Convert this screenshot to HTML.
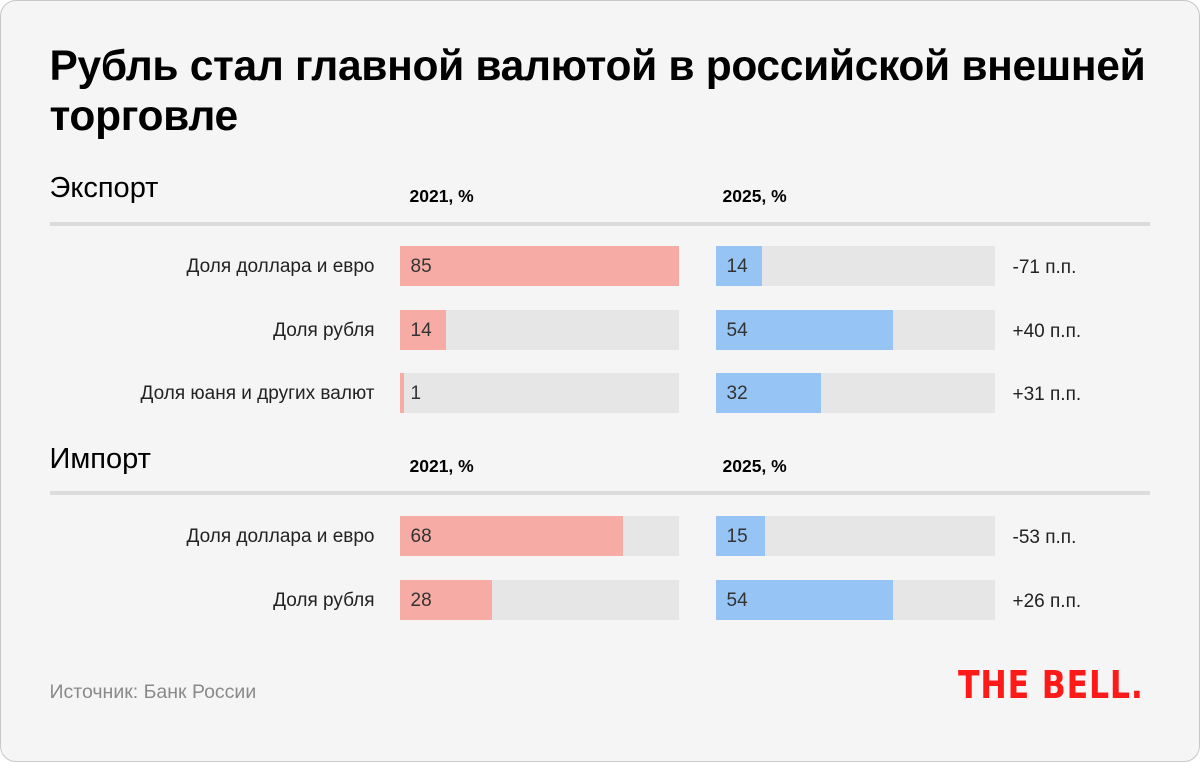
<!DOCTYPE html>
<html><head><meta charset="utf-8"><style>
*{margin:0;padding:0;box-sizing:border-box}
body{width:1200px;height:762px;background:#fff;font-family:"Liberation Sans","DejaVu Sans",sans-serif;position:relative;overflow:hidden}
.card{position:absolute;left:0;top:0;width:1200px;height:762px;background:#f5f5f5;border:1.5px solid #c8c8c8;border-radius:16px}
.in{position:absolute;left:-1.5px;top:-1.5px;width:1200px;height:762px}
.t{position:absolute;color:#000;white-space:nowrap}
.title{left:50px;top:42px;font-size:42.5px;font-weight:bold;line-height:50px;letter-spacing:-0.32px}
.sec{left:50px;font-size:29px}
.yr{font-size:17.5px;font-weight:bold}
.line{position:absolute;left:50px;width:1100px;height:4px;background:#dcdcdc}
.lab{position:absolute;right:825px;font-size:19px;color:#222;white-space:nowrap}
.track{position:absolute;width:279px;height:40px;background:#e6e6e6}
.bar{position:absolute;left:0;top:0;height:40px}
.r{background:#f6aca5}.b{background:#96c4f5}
.v{position:absolute;left:11px;top:10px;font-size:19px;color:#333}
.d{position:absolute;left:1013px;font-size:19px;color:#222}
</style></head><body><div class="card"><div class="in">
<div class="t title">Рубль стал главной валютой в российской внешней<br>торговле</div>

<div class="t sec" style="top:172px">Экспорт</div>
<div class="t yr" style="left:410px;top:186px">2021, %</div>
<div class="t yr" style="left:723px;top:186px">2025, %</div>
<div class="line" style="top:222px"></div>

<div class="lab" style="top:256px">Доля доллара и евро</div>
<div class="track" style="left:400px;top:246px"><div class="bar r" style="width:279px"></div><div class="v">85</div></div>
<div class="track" style="left:716px;top:246px"><div class="bar b" style="width:46px"></div><div class="v">14</div></div>
<div class="d" style="top:257px">-71 п.п.</div>

<div class="lab" style="top:320px">Доля рубля</div>
<div class="track" style="left:400px;top:310px"><div class="bar r" style="width:46px"></div><div class="v">14</div></div>
<div class="track" style="left:716px;top:310px"><div class="bar b" style="width:177px"></div><div class="v">54</div></div>
<div class="d" style="top:321px">+40 п.п.</div>

<div class="lab" style="top:383px">Доля юаня и других валют</div>
<div class="track" style="left:400px;top:373px"><div class="bar r" style="width:4px"></div><div class="v">1</div></div>
<div class="track" style="left:716px;top:373px"><div class="bar b" style="width:105px"></div><div class="v">32</div></div>
<div class="d" style="top:384px">+31 п.п.</div>

<div class="t sec" style="top:443px">Импорт</div>
<div class="t yr" style="left:410px;top:456px">2021, %</div>
<div class="t yr" style="left:723px;top:456px">2025, %</div>
<div class="line" style="top:491px"></div>

<div class="lab" style="top:526px">Доля доллара и евро</div>
<div class="track" style="left:400px;top:516px"><div class="bar r" style="width:223px"></div><div class="v">68</div></div>
<div class="track" style="left:716px;top:516px"><div class="bar b" style="width:49px"></div><div class="v">15</div></div>
<div class="d" style="top:527px">-53 п.п.</div>

<div class="lab" style="top:590px">Доля рубля</div>
<div class="track" style="left:400px;top:580px"><div class="bar r" style="width:92px"></div><div class="v">28</div></div>
<div class="track" style="left:716px;top:580px"><div class="bar b" style="width:177px"></div><div class="v">54</div></div>
<div class="d" style="top:591px">+26 п.п.</div>

<div class="t" style="left:50px;top:681px;font-size:19.5px;color:#8a8a8a">Источник: Банк России</div>
<div class="t" style="left:958px;top:663px;font-size:38px;font-weight:900;color:#ff1a1a;letter-spacing:1px;transform:scaleX(0.83);transform-origin:left;font-family:'DejaVu Sans','Liberation Sans',sans-serif">THE BELL.</div>
</div></div></body></html>
